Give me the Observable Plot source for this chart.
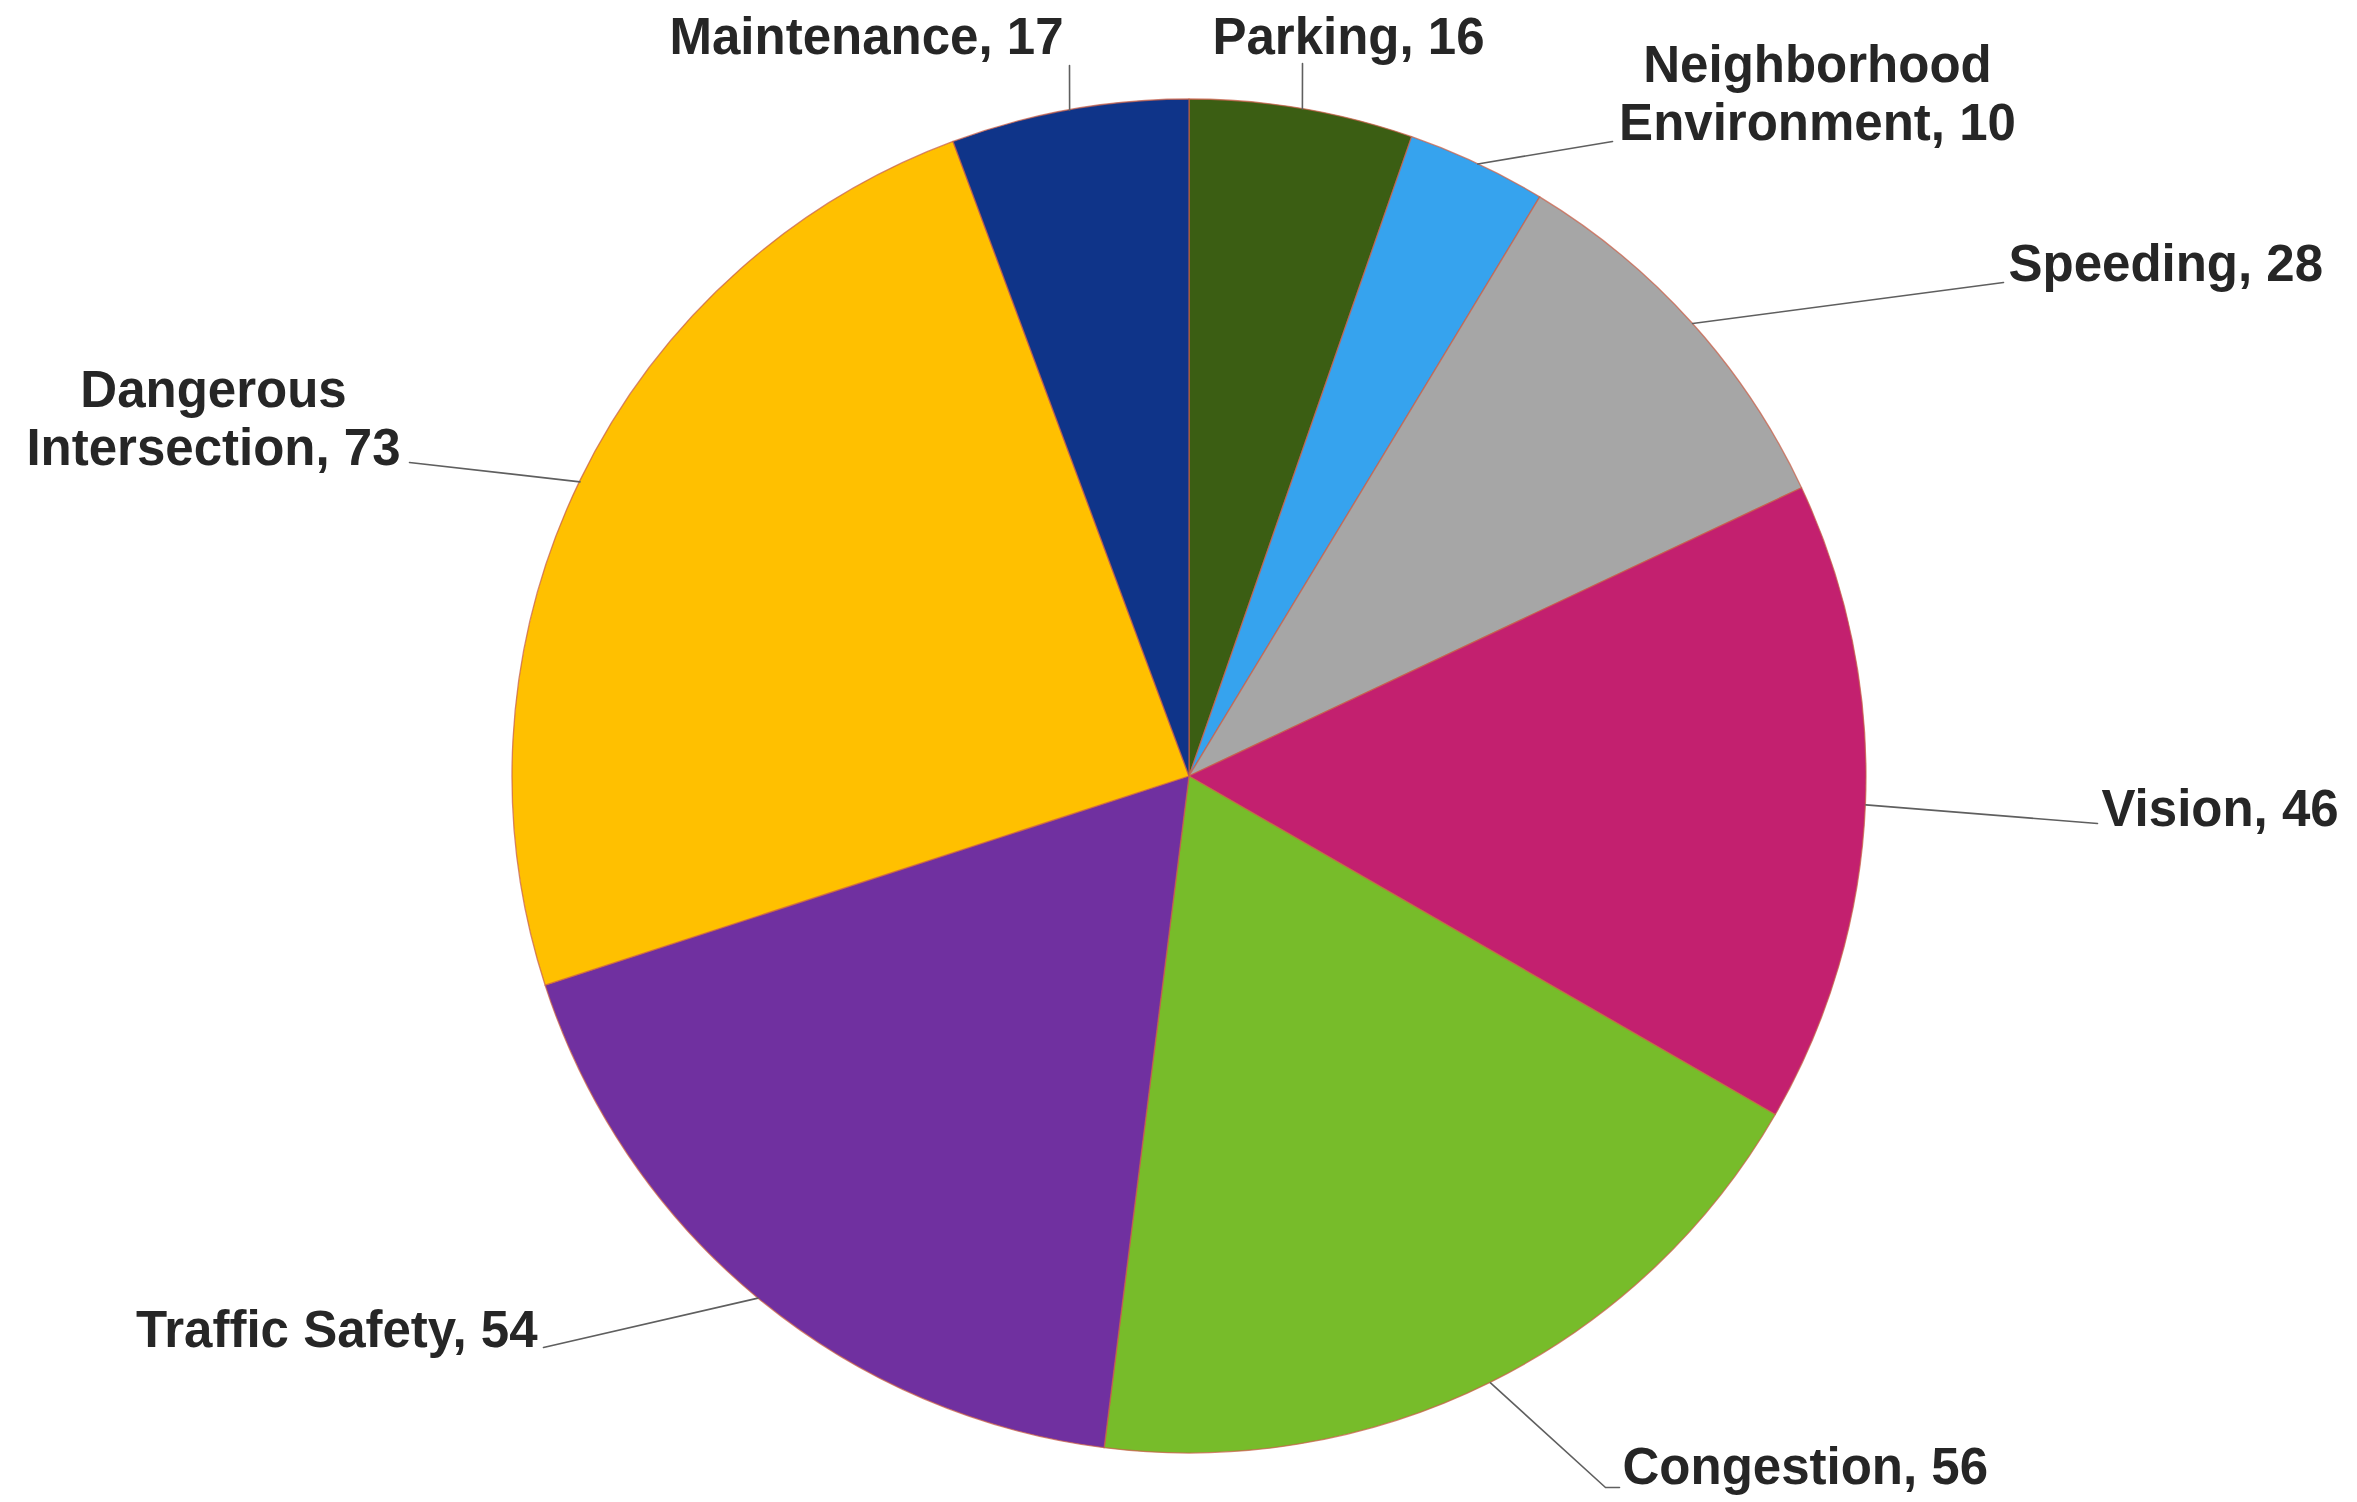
<!DOCTYPE html>
<html>
<head>
<meta charset="utf-8">
<script src="https://cdn.jsdelivr.net/npm/d3@7"></script>
<script src="https://cdn.jsdelivr.net/npm/@observablehq/plot@0.6"></script>
<style>
  html, body { margin: 0; padding: 0; background: #ffffff; }
  #chart svg { display: block; }
</style>
</head>
<body>
<div id="chart"></div>
<script>
// ---- data ----
const categories = ["Parking", "Neighborhood Environment", "Speeding", "Vision", "Congestion", "Traffic Safety", "Dangerous Intersection", "Maintenance"];
const values = [16, 10, 28, 46, 56, 54, 73, 17];
const colors = ["#3B5E13", "#36A3EE", "#A6A6A6", "#C3206F", "#77BC2A", "#7030A0", "#FFC000", "#0F3489"];
// label wrapping: where the category name breaks onto a second line
const wrapAfter = ["", "Neighborhood", "", "", "", "", "Dangerous", ""];

// ---- layout (pixels) ----
const W = 2357, H = 1502;
const CX = 1189, CY = 776, R = 677;
// label position [x, baseline of last line, anchor] and leader-line end points
const labelLayout = [
  {x: 1348, y: 53,   anchor: "middle", end: [[1302, 63]]},
  {x: 1817, y: 139,  anchor: "middle", end: [[1612, 141]]},
  {x: 2008, y: 280,  anchor: "start",  end: [[2003, 282]]},
  {x: 2101, y: 825,  anchor: "start",  end: [[2097, 823]]},
  {x: 1622, y: 1483, anchor: "start",  end: [[1605, 1487], [1619, 1487]]},
  {x: 537,  y: 1346, anchor: "end",    end: [[543, 1347]]},
  {x: 213,  y: 464,  anchor: "middle", end: [[409, 462]]},
  {x: 866,  y: 53,   anchor: "middle", end: [[1069, 65]]}
];

const table = categories.map((c, i) => ({category: c, value: values[i], color: colors[i], i}));
const arcs = d3.pie().sort(null).value(d => d.value).startAngle(0).endAngle(2 * Math.PI)(table);

// label records
const labels = arcs.map((a, i) => {
  const c = categories[i];
  const w = wrapAfter[i];
  const name = w ? w + "\n" + c.slice(w.length + 1) : c;
  return {text: `${name}, ${values[i]}`, x: labelLayout[i].x, y: labelLayout[i].y, anchor: labelLayout[i].anchor};
});

// leader lines: from slice mid-angle on the rim to the label
const leaders = [];
arcs.forEach((a, i) => {
  const mid = (a.startAngle + a.endAngle) / 2;
  leaders.push({k: i, x: CX + R * Math.sin(mid), y: CY - R * Math.cos(mid)});
  labelLayout[i].end.forEach(([x, y]) => leaders.push({k: i, x, y}));
});

// pie slices drawn with d3.arc, positioned through Plot's x/y scales
function pieSlices(index, scales) {
  const px = scales.x(CX), py = scales.y(CY);
  const r = scales.x(CX + R) - px;
  const arc = d3.arc().innerRadius(0).outerRadius(r);
  const g = d3.create("svg:g").attr("transform", `translate(${px},${py})`);
  g.selectAll("path")
    .data(arcs)
    .join("path")
    .attr("d", arc)
    .attr("fill", d => d.data.color)
    .attr("stroke", "#c8604a")
    .attr("stroke-opacity", 0.75)
    .attr("stroke-width", 1.3)
    .attr("stroke-linejoin", "round");
  return g.node();
}

const textStyle = {
  x: "x", y: "y", text: "text",
  fontSize: 51, fontWeight: "bold",
  fontFamily: "'Liberation Sans', Arial, Helvetica, sans-serif",
  fill: "#262626", lineAnchor: "bottom", lineHeight: 1.13
};

const chart = Plot.plot({
  width: W, height: H,
  margin: 0,
  x: {type: "linear", domain: [0, W], range: [0, W], axis: null},
  y: {type: "linear", domain: [0, H], range: [0, H], axis: null},
  style: {background: "#ffffff", overflow: "visible"},
  marks: [
    pieSlices,
    Plot.line(leaders, {x: "x", y: "y", z: "k", stroke: "#5f5f5f", strokeWidth: 1.6, curve: "linear"}),
    Plot.text(labels.filter(d => d.anchor === "middle"), {...textStyle, textAnchor: "middle"}),
    Plot.text(labels.filter(d => d.anchor === "start"), {...textStyle, textAnchor: "start"}),
    Plot.text(labels.filter(d => d.anchor === "end"), {...textStyle, textAnchor: "end"})
  ]
});
document.getElementById("chart").append(chart);
</script>
</body>
</html>
